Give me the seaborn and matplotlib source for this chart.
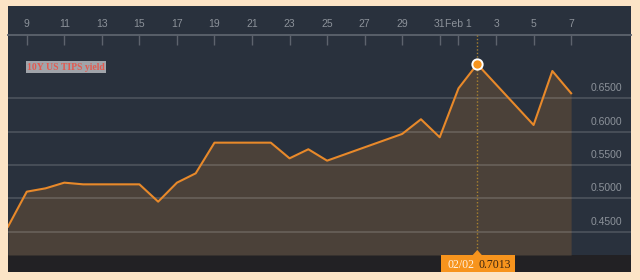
import matplotlib
matplotlib.use("Agg")
import matplotlib.pyplot as plt
import matplotlib.dates as mdates
from matplotlib.patches import Rectangle, Polygon
import seaborn as sns
import pandas as pd

# ---- data ----
dates = ["2018-01-08", "2018-01-09", "2018-01-10", "2018-01-11", "2018-01-12",
         "2018-01-15", "2018-01-16", "2018-01-17", "2018-01-18", "2018-01-19",
         "2018-01-22", "2018-01-23", "2018-01-24", "2018-01-25", "2018-01-29",
         "2018-01-30", "2018-01-31", "2018-02-01", "2018-02-02", "2018-02-05",
         "2018-02-06", "2018-02-07"]
yields = [0.4575, 0.5100, 0.5150, 0.5235, 0.5210,
          0.5210, 0.4950, 0.5235, 0.5375, 0.5835,
          0.5835, 0.5600, 0.5736, 0.5565, 0.5966,
          0.6186, 0.5916, 0.6650, 0.7013, 0.6100,
          0.6910, 0.6576]
series_name = "10Y US TIPS yield"
tick_dates = ["2018-01-09", "2018-01-11", "2018-01-13", "2018-01-15", "2018-01-17",
              "2018-01-19", "2018-01-21", "2018-01-23", "2018-01-25", "2018-01-27",
              "2018-01-29", "2018-01-31", "2018-02-01", "2018-02-03", "2018-02-05",
              "2018-02-07"]
tick_labels = ["9", "11", "13", "15", "17", "19", "21", "23", "25", "27", "29",
               "31", "Feb 1", "3", "5", "7"]
y_ticks = [0.45, 0.50, 0.55, 0.60, 0.65]
hover_date = "2018-02-02"
hover_label = "02/02"
hover_value = 0.7013

df = pd.DataFrame({"date": pd.to_datetime(dates), "yield": yields})

# ---- colours ----
BG_OUT = "#fce4c6"
PANEL = "#29313d"
BAR = "#222124"
FILL = "#4b4139"
LINE = "#e8892a"
GRID = "#ffffff"
TXT = "#8c929a"
ORANGE = "#f7941d"

W, H = 640, 280
fig = plt.figure(figsize=(6.4, 2.8), dpi=100)
fig.patch.set_facecolor(BG_OUT)

def fx(px):
    return px / W

def fy(py):
    return (H - py) / H

# dark panel and bottom bar
fig.patches.append(Rectangle((fx(8), fy(272)), fx(631) - fx(8), fy(6) - fy(272),
                             transform=fig.transFigure, facecolor=PANEL, edgecolor="none", zorder=-2))
fig.patches.append(Rectangle((fx(8), fy(272)), fx(631) - fx(8), fy(255) - fy(272),
                             transform=fig.transFigure, facecolor=BAR, edgecolor="none", zorder=-1))

ax = fig.add_axes([fx(8), fy(255), fx(631) - fx(8), fy(35) - fy(255)])
ax.set_zorder(1)
ax.set_facecolor(PANEL)

x0 = pd.Timestamp("2018-01-08")
ax.set_xlim(x0, x0 + pd.Timedelta(days=33.19))
ax.set_ylim(0.415, 0.745)

ax.fill_between(df["date"], df["yield"], 0.415, color=FILL, linewidth=0, zorder=1)
sns.lineplot(data=df, x="date", y="yield", ax=ax, color=LINE, linewidth=1.5, zorder=3)

# grid
ax.set_yticks(y_ticks)
ax.yaxis.grid(True, color=GRID, alpha=0.18, linewidth=1.1)
ax.set_axisbelow(False)
ax.tick_params(axis="y", left=False, right=False, labelleft=False, labelright=False)
for v in y_ticks:
    ax.annotate(f"{v:.4f}", xy=(1, v), xycoords=("axes fraction", "data"),
                xytext=(-9, 10), textcoords="offset pixels", ha="right", va="center",
                color=TXT, fontsize=7.5, family="Liberation Sans", zorder=4)

# x axis on top
ax.set_xticks(pd.to_datetime(tick_dates))
ax.set_xticklabels(tick_labels)
ax.xaxis.tick_top()
ax.tick_params(axis="x", direction="in", length=7.2, width=1, color="#5d636d",
               labelcolor=TXT, labelsize=7.5, pad=4.5)
for lbl in ax.get_xticklabels():
    lbl.set_family("Liberation Sans")
for s in ["left", "right", "bottom"]:
    ax.spines[s].set_visible(False)
ax.spines["top"].set_color("#5d636d")
ax.spines["top"].set_linewidth(1.3)
ax.set_xlabel("")
ax.set_ylabel("")

# hover crosshair and marker
hx = pd.Timestamp(hover_date)
ax.axvline(hx, color="#a9822f", linestyle=(0, (1, 1.5)), linewidth=1, zorder=2.8)
ax.scatter([hx], [hover_value], s=55, color=ORANGE, edgecolor="white", linewidth=1.4, zorder=5)

# series label box
fig.text(fx(27), fy(67), series_name, ha="left", va="center", fontsize=7,
         family="Liberation Serif", weight="bold", color="#e35a50", zorder=5,
         bbox=dict(boxstyle="square,pad=0.12", facecolor="#a0a4aa", edgecolor="none"))

# tooltip at bottom
fig.canvas.draw()
hx_px = ax.transData.transform((mdates.date2num(hx), 0.5))[0]
fig.patches.append(Rectangle((fx(hx_px - 36), fy(272)), fx(74), fy(255) - fy(272),
                             transform=fig.transFigure, facecolor=ORANGE, edgecolor="none", zorder=3))
fig.patches.append(Polygon([(fx(hx_px - 5), fy(255.5)), (fx(hx_px + 5), fy(255.5)), (fx(hx_px), fy(250))],
                           closed=True, transform=fig.transFigure, facecolor=ORANGE, edgecolor="none", zorder=3))
fig.text(fx(hx_px - 16.5), fy(264.5), hover_label, ha="center", va="center", fontsize=8.5,
         family="Liberation Serif", color="#fff1e0", zorder=4)
fig.text(fx(hx_px + 17.5), fy(264.5), f"{hover_value:.4f}", ha="center", va="center", fontsize=8.5,
         family="Liberation Serif", color="#3a2410", zorder=4)

fig.savefig("out.png", dpi=100, facecolor=BG_OUT)
